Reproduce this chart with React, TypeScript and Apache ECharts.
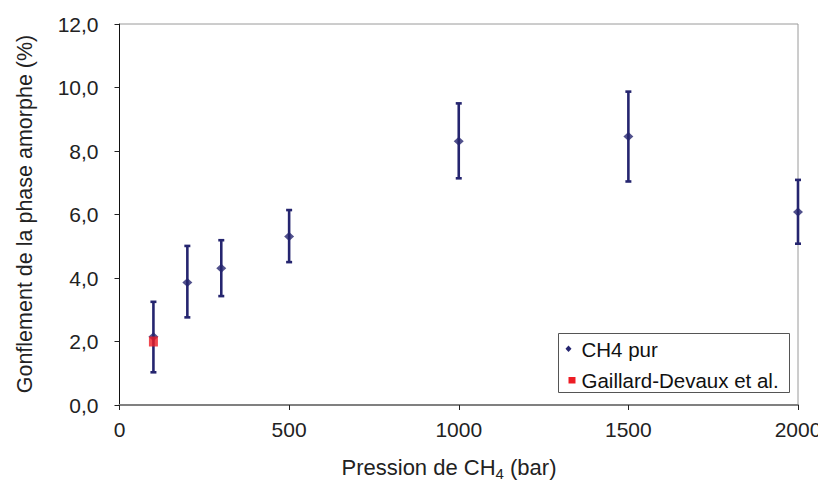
import React, { useEffect, useRef } from "react";
import * as echarts from "echarts";

const pressures = [100, 200, 300, 500, 1000, 1500, 2000];
const swelling = [2.15, 3.86, 4.31, 5.31, 8.31, 8.46, 6.08];
const errLow = [1.03, 2.76, 3.43, 4.5, 7.14, 7.04, 5.08];
const errHigh = [3.25, 5.01, 5.19, 6.14, 9.5, 9.87, 7.09];
const refPressures = [100];
const refSwelling = [2.0];
const xTicks = [0, 500, 1000, 1500, 2000];
const seriesNames = ["CH4 pur", "Gaillard-Devaux et al."];

const NAVY = "#25256f";
const RED = "#ed1c24";
const FONT = "Liberation Sans, Arial, sans-serif";

export default function App() {
  const ref = useRef<HTMLDivElement>(null);
  useEffect(() => {
    if (!ref.current) return;
    const chart = echarts.init(ref.current, null, { renderer: "svg" });
    const errData = pressures.map((p, i) => [p, errLow[i], errHigh[i]]);
    chart.setOption({
      animation: false,
      backgroundColor: "#ffffff",
      textStyle: { fontFamily: FONT },
      grid: {
        left: 119.5,
        right: 28,
        top: 24,
        bottom: 84,
        show: true,
        borderColor: "#9a9a9a",
        borderWidth: 1,
      },
      xAxis: {
        type: "value",
        min: xTicks[0],
        max: xTicks[xTicks.length - 1],
        interval: 500,
        axisLine: { show: true, lineStyle: { color: "#808080", width: 2 } },
        axisTick: { show: true, inside: false, length: 5, lineStyle: { color: "#222", width: 1 } },
        axisLabel: {
          margin: 14,
          fontSize: 21,
          color: "#222",
          fontFamily: FONT,
          formatter: (v: number) => String(v),
        },
        splitLine: { show: false },
      },
      yAxis: {
        type: "value",
        min: 0,
        max: 12,
        interval: 2,
        axisLine: { show: true, lineStyle: { color: "#111", width: 1 } },
        axisTick: { show: true, inside: false, length: 5, lineStyle: { color: "#222", width: 1 } },
        axisLabel: {
          margin: 21,
          fontSize: 21,
          color: "#222",
          fontFamily: FONT,
          formatter: (v: number) => v.toFixed(1).replace(".", ","),
        },
        splitLine: { show: false },
      },
      series: [
        {
          type: "custom",
          name: "err",
          data: errData,
          z: 2,
          renderItem: (params: any, api: any) => {
            const x = api.value(0);
            const lo = api.coord([x, api.value(1)]);
            const hi = api.coord([x, api.value(2)]);
            const cw = 3;
            const st = { stroke: NAVY, lineWidth: 2.6 };
            return {
              type: "group",
              children: [
                { type: "line", shape: { x1: lo[0], y1: lo[1], x2: hi[0], y2: hi[1] }, style: st },
                { type: "line", shape: { x1: lo[0] - cw, y1: lo[1], x2: lo[0] + cw, y2: lo[1] }, style: st },
                { type: "line", shape: { x1: hi[0] - cw, y1: hi[1], x2: hi[0] + cw, y2: hi[1] }, style: st },
              ],
            };
          },
        },
        {
          type: "scatter",
          name: seriesNames[0],
          symbol: "diamond",
          symbolSize: [10, 9],
          itemStyle: { color: NAVY },
          z: 3,
          data: pressures.map((p, i) => [p, swelling[i]]),
        },
        {
          type: "scatter",
          name: seriesNames[1],
          symbol: "rect",
          symbolSize: [9, 10],
          itemStyle: { color: RED },
          z: 4,
          data: refPressures.map((p, i) => [p, refSwelling[i]]),
        },
      ],
      graphic: [
        {
          type: "text",
          x: 449,
          y: 467,
          style: {
            text: "Pression de CH{sub|4} (bar)",
            fontSize: 22,
            fontFamily: FONT,
            fill: "#222",
            align: "center",
            verticalAlign: "middle",
            rich: {
              sub: { fontSize: 15, fontFamily: FONT, fill: "#222", padding: [12, 0, 0, 0] },
            },
          },
        },
        {
          type: "text",
          x: 25,
          y: 214,
          rotation: Math.PI / 2,
          style: {
            text: "Gonflement de la phase amorphe (%)",
            fontSize: 21.5,
            fontFamily: FONT,
            fill: "#222",
            align: "center",
            verticalAlign: "middle",
          },
        },
        {
          type: "rect",
          shape: { x: 558.5, y: 333.5, width: 231, height: 59 },
          style: { fill: "#ffffff", stroke: "#555", lineWidth: 1 },
          z: 10,
        },
        {
          type: "polygon",
          shape: { points: [[568.5, 345.5], [571.5, 348.7], [568.5, 352], [565.5, 348.7]] },
          style: { fill: NAVY },
          z: 11,
        },
        {
          type: "text",
          x: 581.5,
          y: 349,
          style: { text: seriesNames[0], fontSize: 20.5, fontFamily: FONT, fill: "#111", verticalAlign: "middle" },
          z: 11,
        },
        {
          type: "rect",
          shape: { x: 568.5, y: 377, width: 7, height: 6.5 },
          style: { fill: RED },
          z: 11,
        },
        {
          type: "text",
          x: 581.5,
          y: 380.5,
          style: { text: seriesNames[1], fontSize: 20.5, fontFamily: FONT, fill: "#111", verticalAlign: "middle" },
          z: 11,
        },
      ],
    });
    return () => chart.dispose();
  }, []);
  return <div ref={ref} style={{ width: 826, height: 489, margin: -8 }} />;
}
